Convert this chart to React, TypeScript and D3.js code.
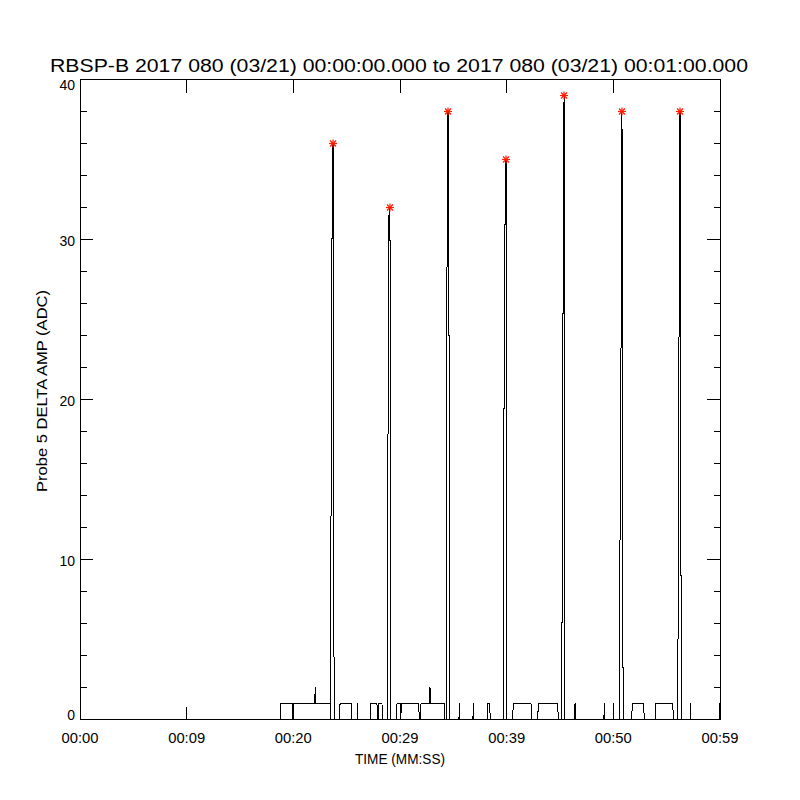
import React from "react";
import * as d3 from "d3";

// ---- Data (time in seconds from 00:00:00, amplitude in ADC) ----
const TITLE = "RBSP-B 2017 080 (03/21) 00:00:00.000 to 2017 080 (03/21) 00:01:00.000";
const X_LABEL = "TIME (MM:SS)";
const Y_LABEL = "Probe 5 DELTA AMP (ADC)";

const X_TICK_VALUES = [0, 10, 20, 30, 40, 50, 60];
const X_TICK_LABELS = ["00:00", "00:09", "00:20", "00:29", "00:39", "00:50", "00:59"];
const Y_TICK_VALUES = [0, 10, 20, 30, 40];
const Y_TICK_LABELS = ["0", "10", "20", "30", "40"];
const Y_MINOR_VALUES = [2, 4, 6, 8, 12, 14, 16, 18, 22, 24, 26, 28, 32, 34, 36, 38];

// big spikes (peaks marked with red asterisks)
const PEAK_TIMES = [23.72, 29.06, 34.5, 39.94, 45.38, 50.81, 56.25];
const PEAK_VALUES = [36, 32, 38, 35, 39, 38, 38];
const SPIKE_SAMPLES = [
  [12.5, 30, 36, 3.5],
  [17, 31.5, 32],
  [28, 38, 24],
  [19.5, 31, 35],
  [6.5, 26, 39],
  [10.5, 22.5, 38, 3.5],
  [4.5, 23.5, 38, 9],
];

// low-level activity: plateaus at 1 ADC
const PLATEAU_STARTS = [18.84, 24.38, 27.28, 28.0, 29.72, 31.97, 38.25, 40.62, 42.97, 51.78, 53.97];
const PLATEAU_ENDS = [23.44, 25.41, 27.84, 28.31, 31.75, 34.13, 38.4, 42.28, 44.78, 52.84, 55.57];
// single-sample drops to 0 inside plateaus
const DIP_TIMES = [19.97, 30.07];
// single-sample bumps to 2 inside plateaus
const BUMP_TIMES = [22.06, 32.81];
// isolated single-sample pulses to 1
const PULSE_TIMES = [26.0, 35.56, 36.87, 46.41, 49.15, 50.0, 57.22];
const END_TIME = 60;
const END_VALUE = 1;

const DT = 0.0625;
const SPIKE_DT = 0.094;

type Pt = [number, number];

function buildSeries(): Pt[] {
  const pts: Pt[] = [[0, 0]];
  PLATEAU_STARTS.forEach((a, i) => {
    const b = PLATEAU_ENDS[i];
    pts.push([a - DT, 0], [a, 1], [b, 1], [b + DT, 0]);
  });
  DIP_TIMES.forEach((t) => pts.push([t - DT, 1], [t, 0], [t + DT, 1]));
  BUMP_TIMES.forEach((t) => pts.push([t - DT, 1], [t, 2], [t + DT, 1]));
  PULSE_TIMES.forEach((t) => pts.push([t - DT / 2, 0], [t, 1], [t + DT / 2, 0]));
  PEAK_TIMES.forEach((tp, i) => {
    const s = SPIKE_SAMPLES[i];
    const pk = s.indexOf(d3.max(s) as number);
    const t0 = tp - pk * SPIKE_DT;
    pts.push([t0 - SPIKE_DT * 0.5, 0]);
    s.forEach((v, j) => pts.push([t0 + j * SPIKE_DT, v]));
    pts.push([t0 + (s.length - 0.5) * SPIKE_DT, 0]);
  });
  pts.push([END_TIME - DT / 2, 0], [END_TIME, END_VALUE]);
  pts.sort((p, q) => p[0] - q[0]);
  return pts;
}

const LEFT = 80;
const RIGHT = 720;
const TOP = 79.5;
const BOTTOM = 719.5;
const MAJOR = 13;
const MINOR = 6.5;
const FONT = "'Liberation Sans', Arial, sans-serif";

function Asterisk({ x, y }: { x: number; y: number }) {
  const r = 4;
  const d = 3;
  return (
    <g stroke="#ff1a00" strokeWidth={1.2}>
      <line x1={x - r} y1={y} x2={x + r} y2={y} />
      <line x1={x} y1={y - r} x2={x} y2={y + r} />
      <line x1={x - d} y1={y - d} x2={x + d} y2={y + d} />
      <line x1={x - d} y1={y + d} x2={x + d} y2={y - d} />
    </g>
  );
}

export default function App() {
  const x = d3.scaleLinear().domain([0, 60]).range([LEFT, RIGHT]);
  const y = d3.scaleLinear().domain([0, 40]).range([BOTTOM, TOP]);
  const series = buildSeries();
  const line = d3
    .line<Pt>()
    .x((d) => x(d[0]))
    .y((d) => y(d[1]));

  return (
    <svg
      width={800}
      height={800}
      style={{ position: "absolute", left: 0, top: 0, background: "#fff" }}
      fontFamily={FONT}
    >
      <rect x={0} y={0} width={800} height={800} fill="#fff" />
      <text x={399} y={72} fontSize={18} textAnchor="middle" textLength={698} lengthAdjust="spacingAndGlyphs">
        {TITLE}
      </text>

      {/* data */}
      <path d={line(series) || ""} fill="none" stroke="#000" strokeWidth={1} shapeRendering="crispEdges" />

      {/* frame */}
      <g stroke="#000" strokeWidth={1} shapeRendering="crispEdges" fill="none">
        <rect x={LEFT} y={TOP} width={RIGHT - LEFT} height={BOTTOM - TOP} />
        {X_TICK_VALUES.map((v) => (
          <g key={"xt" + v}>
            <line x1={x(v)} x2={x(v)} y1={BOTTOM} y2={BOTTOM - MAJOR} />
            <line x1={x(v)} x2={x(v)} y1={TOP} y2={TOP + MAJOR} />
          </g>
        ))}
        {Y_TICK_VALUES.map((v) => (
          <g key={"yt" + v}>
            <line x1={LEFT} x2={LEFT + MAJOR} y1={y(v)} y2={y(v)} />
            <line x1={RIGHT} x2={RIGHT - MAJOR} y1={y(v)} y2={y(v)} />
          </g>
        ))}
        {Y_MINOR_VALUES.map((v) => (
          <g key={"ym" + v}>
            <line x1={LEFT} x2={LEFT + MINOR} y1={y(v)} y2={y(v)} />
            <line x1={RIGHT} x2={RIGHT - MINOR} y1={y(v)} y2={y(v)} />
          </g>
        ))}
      </g>

      {/* peak markers */}
      {PEAK_TIMES.map((t, i) => (
        <Asterisk key={"pk" + i} x={x(t)} y={y(PEAK_VALUES[i])} />
      ))}

      {/* tick labels */}
      {X_TICK_VALUES.map((v, i) => (
        <text key={"xl" + v} x={x(v)} y={743} fontSize={14} textAnchor="middle" textLength={37} lengthAdjust="spacingAndGlyphs">
          {X_TICK_LABELS[i]}
        </text>
      ))}
      {Y_TICK_VALUES.map((v, i) => {
        const n = Y_TICK_VALUES.length;
        const dy = i === 0 ? 0 : i === n - 1 ? 10.5 : 6;
        return (
          <text key={"yl" + v} x={75} y={y(v) + dy} fontSize={14} textAnchor="end">
            {Y_TICK_LABELS[i]}
          </text>
        );
      })}

      <text x={400} y={764} fontSize={14} textAnchor="middle" textLength={90} lengthAdjust="spacingAndGlyphs">
        {X_LABEL}
      </text>
      <text
        transform={`translate(47, 391) rotate(-90)`}
        fontSize={14}
        textAnchor="middle"
        textLength={202}
        lengthAdjust="spacingAndGlyphs"
      >
        {Y_LABEL}
      </text>
    </svg>
  );
}
